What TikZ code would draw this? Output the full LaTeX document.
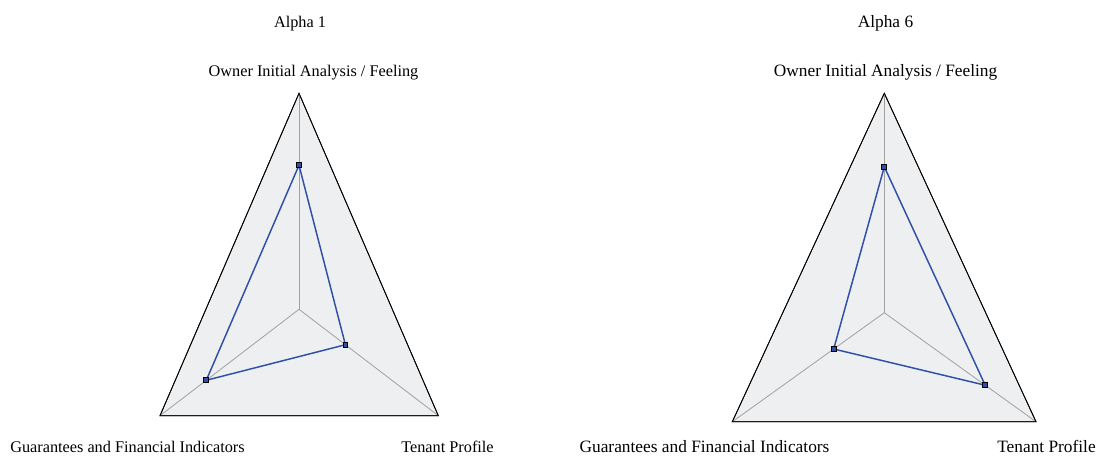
\documentclass[tikz,border=0pt]{standalone}
\usepackage{fontspec}
\setmainfont{Liberation Serif}
\usetikzlibrary{calc}
\definecolor{gridfill}{HTML}{EEEFF1}
\definecolor{axisgray}{HTML}{A0A0A0}
\definecolor{serieblue}{HTML}{3050A8}
\begin{document}
\begin{tikzpicture}[x=0.75pt,y=-0.75pt,
  frame/.style={draw=black,line width=0.6pt,fill=gridfill,line join=miter},
  axisline/.style={draw=axisgray,line width=0.6pt},
  serie/.style={draw=serieblue,line width=1.1pt,line join=round},
  marker/.style={draw=black,fill=serieblue,line width=0.7pt,minimum size=3.6pt,inner sep=0pt,rectangle},
  lblA/.style={font=\fontsize{12.2}{14}\selectfont,anchor=base,inner sep=0pt},
  lblB/.style={font=\fontsize{13}{15}\selectfont,anchor=base,inner sep=0pt}]
\useasboundingbox (0,0) rectangle (1103,455);

% ---------- Left chart (Alpha 1) ----------
\coordinate (Lc) at (299,309.3);
\coordinate (Lt) at (299,93.3);
\coordinate (Ll) at (160,415.7);
\coordinate (Lr) at (438.3,415.7);
\path[frame] (Lt) -- (Lr) -- (Ll) -- cycle;
\draw[axisline] (Lc) -- (Lt);
\draw[axisline] (Lc) -- (Ll);
\draw[axisline] (Lc) -- (Lr);
\draw[frame,fill=none] (Lt) -- (Lr) -- (Ll) -- cycle;
\coordinate (Lp1) at ($(Lc)!0.667!(Lt)$);
\coordinate (Lp2) at ($(Lc)!0.333!(Lr)$);
\coordinate (Lp3) at ($(Lc)!0.667!(Ll)$);
\draw[serie] (Lp1) -- (Lp2) -- (Lp3) -- cycle;
\node[marker] (Lm1) at (Lp1) {};
\node[marker] (Lm2) at (Lp2) {};
\node[marker] (Lm3) at (Lp3) {};
\node[lblA] (Ltitle) at (300,27.3) {Alpha 1};
\node[lblA] (Lown) at (313.5,76.7) {Owner Initial Analysis / Feeling};
\node[lblA] (Lgua) at (127.5,452.5) {Guarantees and Financial Indicators};
\node[lblA] (Lten) at (447.5,452.5) {Tenant Profile};

% ---------- Right chart (Alpha 6) ----------
\coordinate (Rc) at (884.3,312.7);
\coordinate (Rt) at (884.3,93.3);
\coordinate (Rl) at (732.3,421.7);
\coordinate (Rr) at (1036,421.7);
\path[frame] (Rt) -- (Rr) -- (Rl) -- cycle;
\draw[axisline] (Rc) -- (Rt);
\draw[axisline] (Rc) -- (Rl);
\draw[axisline] (Rc) -- (Rr);
\draw[frame,fill=none] (Rt) -- (Rr) -- (Rl) -- cycle;
\coordinate (Rp1) at ($(Rc)!0.665!(Rt)$);
\coordinate (Rp2) at ($(Rc)!0.665!(Rr)$);
\coordinate (Rp3) at ($(Rc)!0.333!(Rl)$);
\draw[serie] (Rp1) -- (Rp2) -- (Rp3) -- cycle;
\node[marker] (Rm1) at (Rp1) {};
\node[marker] (Rm2) at (Rp2) {};
\node[marker] (Rm3) at (Rp3) {};
\node[lblB] (Rtitle) at (885.5,27.3) {Alpha 6};
\node[lblB] (Rown) at (885.6,76.7) {Owner Initial Analysis / Feeling};
\node[lblB] (Rgua) at (704.5,452.5) {Guarantees and Financial Indicators};
\node[lblB] (Rten) at (1046.5,452.5) {Tenant Profile};
\end{tikzpicture}
\end{document}
